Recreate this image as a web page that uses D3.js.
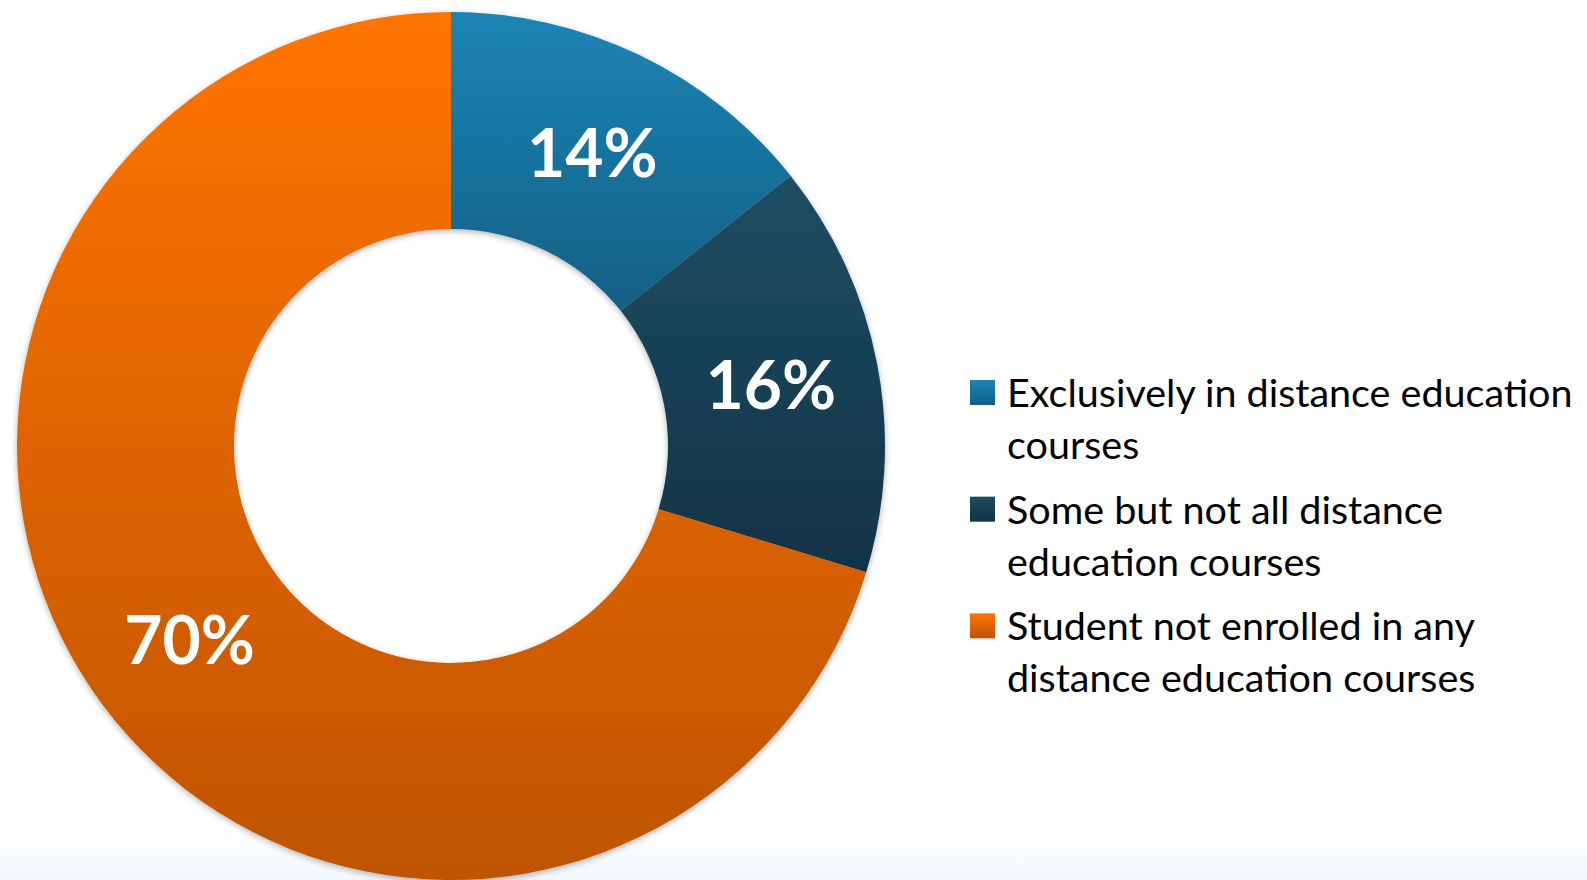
<!DOCTYPE html>
<html>
<head>
<meta charset="utf-8">
<script src="https://cdn.jsdelivr.net/npm/d3@7"></script>
<style>
  html, body { margin: 0; padding: 0; background: #fff; }
  svg { display: block; }
</style>
</head>
<body>
<svg id="chart" width="1587" height="880"></svg>
<script>
// data
const categories = [
    "Exclusively in distance education courses",
    "Some but not all distance education courses",
    "Student not enrolled in any distance education courses"
];
const legendLines = [
    ["Exclusively in distance education", "courses"],
    ["Some but not all distance", "education courses"],
    ["Student not enrolled in any", "distance education courses"]
];
const values = [14.3, 15.4, 70.3];
const valueLabels = ["14%", "16%", "70%"];
const colorTop = ["#1c85b6", "#1e4e63", "#ff7400"];
const colorBottom = ["#125f84", "#113345", "#bf5400"];

const svg = d3.select("#chart");
const cx = 451, cy = 446;
const outerR = 434, innerR = 217;

const defs = svg.append("defs");

// faint blue band at the bottom of the slide
const bg = defs.append("linearGradient").attr("id", "bgBand")
    .attr("x1", 0).attr("y1", 0).attr("x2", 0).attr("y2", 1);
bg.append("stop").attr("offset", 0).attr("stop-color", "#ffffff");
bg.append("stop").attr("offset", 1).attr("stop-color", "#f1f8fb");
svg.append("rect").attr("x", 0).attr("y", 830).attr("width", 1587).attr("height", 50)
    .attr("fill", "url(#bgBand)");

const shadow = defs.append("filter").attr("id", "shadow")
    .attr("x", "-10%").attr("y", "-10%").attr("width", "120%").attr("height", "120%");
shadow.append("feDropShadow").attr("dx", 0).attr("dy", 2).attr("stdDeviation", 3)
    .attr("flood-color", "#000").attr("flood-opacity", 0.3);

categories.forEach((c, i) => {
    const g = defs.append("linearGradient").attr("id", "grad" + i)
        .attr("x1", 0).attr("y1", 0).attr("x2", 0).attr("y2", 1);
    g.append("stop").attr("offset", 0).attr("stop-color", colorTop[i]);
    g.append("stop").attr("offset", 1).attr("stop-color", colorBottom[i]);
});

const pie = d3.pie().sort(null).value(d => d);
const arc = d3.arc().innerRadius(innerR).outerRadius(outerR);
const arcs = pie(values);

const donut = svg.append("g")
    .attr("transform", `translate(${cx},${cy})`);

donut.append("g").attr("filter", "url(#shadow)")
    .selectAll("path")
    .data(arcs)
    .join("path")
    .attr("d", arc)
    .attr("fill", (d, i) => `url(#grad${i})`);

donut.selectAll("text.pct")
    .data(arcs)
    .join("text")
    .attr("class", "pct")
    .attr("transform", d => `translate(${arc.centroid(d)})`)
    .attr("text-anchor", "middle")
    .attr("dy", "0.36em")
    .attr("fill", "#fff")
    .style("font-family", "Lato, 'Open Sans', sans-serif")
    .style("font-weight", "bold")
    .style("font-size", "66px")
    .text((d, i) => valueLabels[i]);

// legend
const legendY = d3.scaleBand().domain(d3.range(categories.length)).range([379, 729]);
const legend = svg.append("g");
const item = legend.selectAll("g")
    .data(categories)
    .join("g")
    .attr("transform", (d, i) => `translate(970,${legendY(i)})`);

item.append("rect")
    .attr("x", 0).attr("y", 1)
    .attr("width", 25).attr("height", 25)
    .attr("fill", (d, i) => `url(#grad${i})`);

item.append("text")
    .attr("x", 37)
    .attr("y", 28)
    .attr("fill", "#000")
    .style("font-family", "Lato, 'Open Sans', sans-serif")
    .style("font-size", "39.5px")
    .selectAll("tspan")
    .data((d, i) => legendLines[i])
    .join("tspan")
    .attr("x", 37)
    .attr("dy", (d, j) => j === 0 ? 0 : 52)
    .text(d => d);
</script>
</body>
</html>
